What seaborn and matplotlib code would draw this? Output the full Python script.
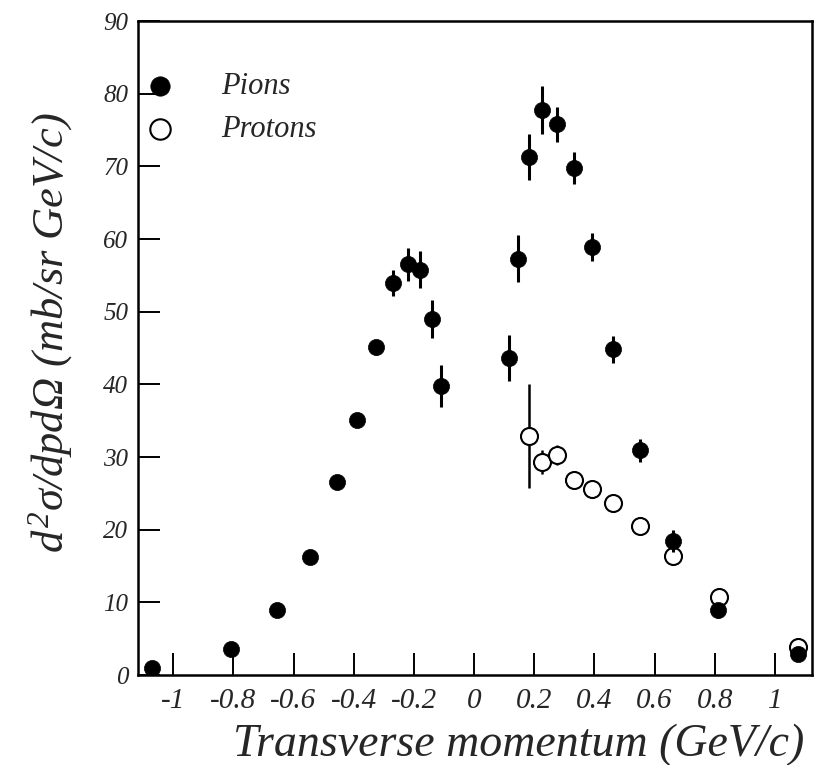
import matplotlib
matplotlib.use("Agg")
import matplotlib.pyplot as plt
import seaborn as sns
import numpy as np
import pandas as pd

# ---- data ----
pion_x = [-1.07, -0.808, -0.655, -0.545, -0.456, -0.388, -0.326, -0.268, -0.218, -0.179,
          -0.141, -0.111, 0.117, 0.147, 0.182, 0.225, 0.275, 0.333, 0.391, 0.463,
          0.551, 0.662, 0.812, 1.077]
pion_y = [0.9, 3.6, 9.0, 16.3, 26.5, 35.1, 45.1, 53.9, 56.5, 55.8,
          49.0, 39.8, 43.6, 57.3, 71.3, 77.7, 75.8, 69.8, 58.9, 44.8,
          30.9, 18.5, 8.9, 2.9]
pion_err = [0.3, 0.4, 0.5, 0.5, 0.7, 1.0, 1.0, 1.8, 2.3, 2.6,
            2.6, 2.9, 3.2, 3.2, 3.2, 3.3, 2.4, 2.2, 1.9, 1.8,
            1.6, 1.5, 1.0, 0.5]
proton_x = [0.183, 0.225, 0.275, 0.332, 0.391, 0.463, 0.551, 0.662, 0.814, 1.077]
proton_y = [32.9, 29.3, 30.3, 26.9, 25.6, 23.7, 20.5, 16.4, 10.8, 3.8]
proton_err = [7.2, 1.6, 1.4, 0.8, 0.5, 0.5, 0.5, 0.5, 0.5, 0.4]

xticks = [-1, -0.8, -0.6, -0.4, -0.2, 0, 0.2, 0.4, 0.6, 0.8, 1]
xtick_labels = ["-1", "-0.8", "-0.6", "-0.4", "-0.2", "0", "0.2", "0.4", "0.6", "0.8", "1"]
yticks = [0, 10, 20, 30, 40, 50, 60, 70, 80, 90]

sns.set_theme(style="white")
plt.rcParams['font.family'] = ['Liberation Serif', 'DejaVu Serif']
plt.rcParams['font.style'] = 'italic'
plt.rcParams['mathtext.fontset'] = 'custom'
plt.rcParams['mathtext.it'] = 'Liberation Serif:italic'
plt.rcParams['mathtext.rm'] = 'Liberation Serif'

fig = plt.figure(figsize=(8.15, 7.65), dpi=100)
ax = fig.add_axes([0.1693, 0.1176, 0.8270, 0.8549])

pions = pd.DataFrame({"x": pion_x, "y": pion_y, "err": pion_err})
protons = pd.DataFrame({"x": proton_x, "y": proton_y, "err": proton_err})

ax.errorbar(protons.x, protons.y, yerr=protons.err, fmt='none', ecolor='black',
            elinewidth=1.8, capsize=0, zorder=2)
sns.scatterplot(data=protons, x="x", y="y", ax=ax, s=150, marker='o',
                facecolor='white', edgecolor='black', linewidth=1.5, zorder=3,
                label="Protons")
ax.errorbar(pions.x, pions.y, yerr=pions.err, fmt='none', ecolor='black',
            elinewidth=2.2, capsize=0, zorder=4)
sns.scatterplot(data=pions, x="x", y="y", ax=ax, s=135, marker='o',
                color='black', edgecolor='black', linewidth=0.5, zorder=5,
                label="Pions")

ax.set_xlim(-1.117, 1.123)
ax.set_ylim(0, 90)
ax.set_xticks(xticks)
ax.set_xticklabels(xtick_labels, fontsize=21, style='italic')
ax.set_yticks(yticks)
ax.set_yticklabels([str(v) for v in yticks], fontsize=18, style='italic')
ax.tick_params(axis='x', direction='in', length=16, width=1.4, color='black',
               bottom=True, top=False, pad=9)
ax.tick_params(axis='y', direction='in', length=16, width=1.4, color='black',
               left=True, right=False, pad=7)
for sp in ax.spines.values():
    sp.set_visible(True)
    sp.set_color('black')
    sp.set_linewidth(1.8)

ax.set_xlabel("Transverse momentum (GeV/c)", fontsize=33, style='italic')
ax.set_ylabel(r"$d^2$σ/$dpd$Ω (mb/sr GeV/c)", fontsize=32, style='italic')
ax.xaxis.set_label_coords(0.565, -0.074)
ax.yaxis.set_label_coords(-0.093, 0.524)

handles, labels = ax.get_legend_handles_labels()
order = [labels.index("Pions"), labels.index("Protons")]
ax.legend([handles[i] for i in order], [labels[i] for i in order],
          loc='upper left', bbox_to_anchor=(-0.044, 0.955), frameon=False,
          prop={'family': 'Liberation Serif', 'style': 'italic', 'size': 22},
          handletextpad=1.0, labelspacing=0.45, markerscale=1.2, borderaxespad=0.3)

fig.savefig("out.png", dpi=100)
